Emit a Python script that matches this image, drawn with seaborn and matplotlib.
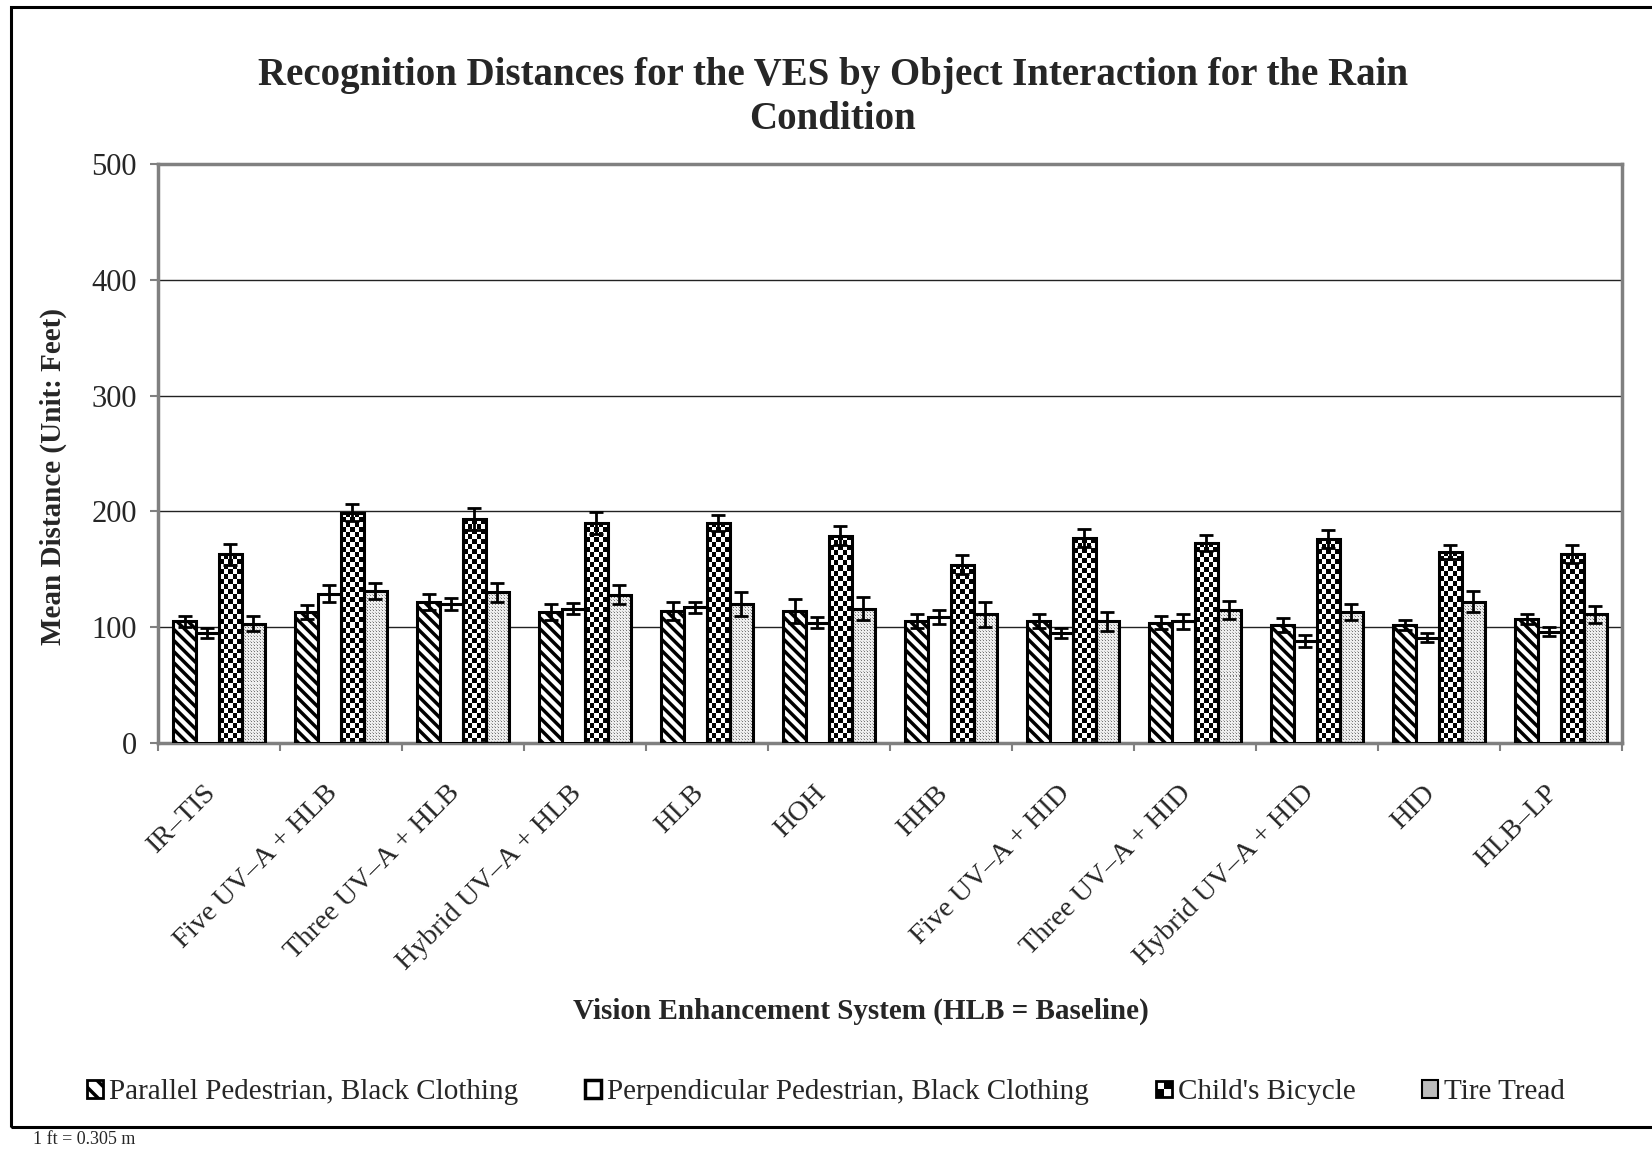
import numpy as np
import pandas as pd
import matplotlib
matplotlib.use("Agg")
import matplotlib.pyplot as plt
import matplotlib.transforms as mtransforms
from matplotlib.patches import Patch, Rectangle
from matplotlib.legend_handler import HandlerBase
import seaborn as sns

# ---------------------------------------------------------------
# Datos
# ---------------------------------------------------------------
sistemas = ['IR–TIS', 'Five UV–A + HLB', 'Three UV–A + HLB', 'Hybrid UV–A + HLB',
            'HLB', 'HOH', 'HHB', 'Five UV–A + HID', 'Three UV–A + HID',
            'Hybrid UV–A + HID', 'HID', 'HLB–LP']
objetos = ['Parallel Pedestrian, Black Clothing',
           'Perpendicular Pedestrian, Black Clothing',
           "Child's Bicycle", 'Tire Tread']

paralelo = [105, 113, 122, 113, 114, 114, 105, 105, 104, 102, 102, 107]
paralelo_err = [5, 6, 7, 7, 7.5, 10, 6, 6, 5.5, 6, 4.5, 4.5]
perpendicular = [95, 129, 120, 116, 117, 104, 109, 95, 105, 88, 91, 96]
perpendicular_err = [4.5, 7, 5.5, 4.5, 5, 4.5, 6, 4.5, 6.5, 5, 4, 4]
bicicleta = [163, 199, 193, 190, 190, 179, 154, 177, 173, 176, 165, 163]
bicicleta_err = [9, 7.5, 9.5, 9.5, 7, 8, 8.5, 7.5, 7, 8, 6, 8]
neumatico = [103, 131, 130, 128, 120, 116, 111, 105, 115, 113, 122, 111]
neumatico_err = [6.5, 7, 8.5, 8, 10, 10, 11, 8, 8, 7, 9, 7.5]

valores = [paralelo, perpendicular, bicicleta, neumatico]
errores = [paralelo_err, perpendicular_err, bicicleta_err, neumatico_err]

df = pd.DataFrame({
    'sistema': np.tile(sistemas, len(objetos)),
    'objeto': np.repeat(objetos, len(sistemas)),
    'distancia': np.concatenate(valores),
})

# ---------------------------------------------------------------
# Estilo
# ---------------------------------------------------------------
sns.set_style('white')
plt.rcParams['font.family'] = ['Liberation Serif', 'DejaVu Serif']
plt.rcParams['hatch.linewidth'] = 2.5

fig = plt.figure(figsize=(16.52, 11.51), dpi=100)
ax = fig.add_axes([0.0956, 0.3545, 0.8862, 0.5030])

sns.barplot(data=df, x='sistema', y='distancia', hue='objeto',
            order=sistemas, hue_order=objetos,
            palette={o: 'white' for o in objetos},
            width=0.75, edgecolor='black', linewidth=2.2,
            errorbar=None, legend=False, ax=ax, zorder=3)

ax.set_ylim(0, 500)
ax.set_xlim(-0.5, len(sistemas) - 0.5)


# texturas (damero y punteado) recortadas a cada barra
def textura(tipo, nx, ny):
    yy, xx = np.indices((ny, nx))
    if tipo == 'damero':
        return ((xx + yy) % 2).astype(float)
    arr = np.full((ny, nx), 0.93)
    arr[(yy % 3 == 0) & (xx % 3 == 0)] = 0.45
    arr[(yy % 3 == 1) & (xx % 3 == 2)] = 0.7
    return arr


def rellenar(barras, tipo, celda):
    for b in barras:
        b.set_facecolor('none')
        x0, y0 = b.get_x(), b.get_y()
        x1, y1 = x0 + b.get_width(), y0 + b.get_height()
        p0 = ax.transData.transform((x0, y0))
        p1 = ax.transData.transform((x1, y1))
        nx = max(1, int(round(abs(p1[0] - p0[0]) / celda)))
        ny = max(1, int(round(abs(p1[1] - p0[1]) / celda)))
        im = ax.imshow(textura(tipo, nx, ny), cmap='gray', vmin=0, vmax=1,
                       extent=(x0, x1, y0, y1), origin='lower',
                       interpolation='nearest', aspect='auto', zorder=2.5)
        im.set_clip_path(b)


for b in ax.containers[0]:
    b.set_hatch('\\\\\\')
rellenar(ax.containers[2], 'damero', 5)
rellenar(ax.containers[3], 'puntos', 1)
ax.set_aspect('auto')
ax.set_xlim(-0.5, len(sistemas) - 0.5)
ax.set_ylim(0, 500)

# barras de error
for cont, v, e in zip(ax.containers, valores, errores):
    xs = [b.get_x() + b.get_width() / 2 for b in cont]
    ax.errorbar(xs, v, yerr=e, fmt='none', ecolor='black', elinewidth=2,
                capsize=4.7, capthick=2, zorder=4)

# ejes
ax.set_yticks(range(0, 501, 100))
ax.yaxis.grid(True, color='#222222', linewidth=1)
ax.set_axisbelow(True)
for s in ax.spines.values():
    s.set_color('#808080')
    s.set_linewidth(2.5)
ax.tick_params(axis='y', direction='out', length=6, width=1.5, color='#808080',
               labelsize=22, pad=9, left=True)
ax.set_xticks(np.arange(len(sistemas)))
ax.set_xticklabels(sistemas, rotation=45, ha='right', va='top',
                   rotation_mode='anchor', fontsize=20.5)
ax.tick_params(axis='x', which='major', length=0, pad=27)
desplaza = mtransforms.ScaledTranslation(-16 / 100, 0, fig.dpi_scale_trans)
for lab in ax.get_xticklabels():
    lab.set_transform(lab.get_transform() + desplaza)
ax.set_xticks(np.arange(len(sistemas) + 1) - 0.5, minor=True)
ax.tick_params(axis='x', which='minor', direction='out', length=6, width=1.5,
               color='#808080', bottom=True)

ax.set_xlabel('')
ax.set_ylabel('Mean Distance (Unit: Feet)', fontsize=21, fontweight='bold')
ax.yaxis.set_label_coords(-0.062, 0.461)

fig.text(0.504, 0.915, 'Recognition Distances for the VES by Object Interaction for the Rain\nCondition',
         ha='center', va='center', fontsize=28, fontweight='bold', linespacing=1.25)
fig.text(0.521, 0.1216, 'Vision Enhancement System (HLB = Baseline)',
         ha='center', va='center', fontsize=21, fontweight='bold')


# leyenda: icono de damero 2x2 para la bicicleta
class HandlerDamero(HandlerBase):
    def create_artists(self, legend, orig_handle, xd, yd, width, height, fontsize, trans):
        s = min(width, height)
        x0 = -xd + (width - s) / 2
        y0 = -yd + (height - s) / 2
        marco = Rectangle((x0, y0), s, s, facecolor='white', edgecolor='black',
                          linewidth=2, transform=trans)
        c1 = Rectangle((x0 + s / 2, y0 + s / 2), s / 2, s / 2, facecolor='black',
                       edgecolor='none', transform=trans)
        c2 = Rectangle((x0, y0), s / 2, s / 2, facecolor='black',
                       edgecolor='none', transform=trans)
        return [marco, c1, c2]


handles = [
    Patch(facecolor='white', edgecolor='black', hatch='\\\\', linewidth=2),
    Patch(facecolor='white', edgecolor='black', linewidth=2.5),
    Patch(facecolor='white', edgecolor='black', linewidth=2),
    Patch(facecolor='#bdbdbd', edgecolor='black', linewidth=1.5),
]
fig.legend(handles, objetos, loc='center', bbox_to_anchor=(0.5, 0.051), ncol=4,
           frameon=False, fontsize=21, handlelength=0.55, handleheight=0.55,
           handletextpad=0.2, columnspacing=2.3,
           handler_map={handles[2]: HandlerDamero()})

# marco y nota
fig.patches.append(Rectangle((11 / 1652, 1 - 1127 / 1151), 1.2, (1127 - 7) / 1151,
                             transform=fig.transFigure, fill=False,
                             edgecolor='black', linewidth=2.2))
fig.text(33 / 1652, 1 - 1140 / 1151, '1 ft = 0.305 m', ha='left', va='center', fontsize=13)

fig.savefig('out.png', dpi=100)
